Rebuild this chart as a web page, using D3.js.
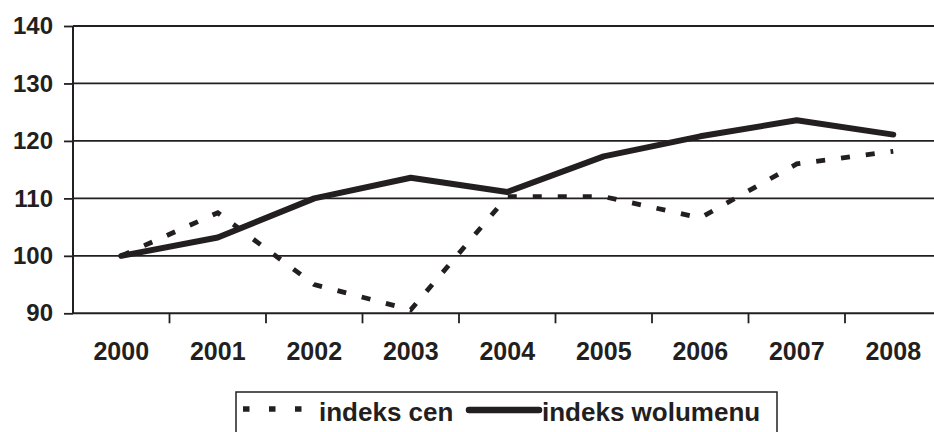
<!DOCTYPE html>
<html>
<head>
<meta charset="utf-8">
<script src="https://cdn.jsdelivr.net/npm/d3@7"></script>
<style>
  body { margin: 0; background: #fff; }
  svg { display: block; font-family: "Liberation Sans", Arial, sans-serif; font-weight: bold; }
</style>
</head>
<body>
<svg id="chart" width="934" height="432"></svg>
<script>
const years = ["2000", "2001", "2002", "2003", "2004", "2005", "2006", "2007", "2008"];
const indeksCen = [100, 107.5, 95, 90.6, 110.3, 110.3, 106.6, 116, 118.2];
const indeksWolumenu = [100, 103.2, 110, 113.6, 111.1, 117.3, 120.8, 123.6, 121.1];
const yTicks = [90, 100, 110, 120, 130, 140];
const seriesNames = ["indeks cen", "indeks wolumenu"];

const INK = "#231f20";
const svg = d3.select("#chart");

const x = d3.scaleBand().domain(years).range([73, 941.5]).padding(0);
const y = d3.scaleLinear().domain([90, 140]).range([313.3, 26]);

// gridlines
svg.append("g")
  .selectAll("line")
  .data(yTicks.filter(d => d > 90))
  .join("line")
  .attr("x1", 73).attr("x2", 934)
  .attr("y1", d => y(d)).attr("y2", d => y(d))
  .attr("stroke", INK).attr("stroke-width", 1.8);

// y axis
const yAxis = svg.append("g")
  .attr("transform", "translate(73,0)")
  .call(d3.axisLeft(y).tickValues(yTicks).tickSize(9).tickPadding(11).tickFormat(d3.format("d")));
yAxis.select(".domain").attr("stroke", INK).attr("stroke-width", 2).attr("d", `M0,${y(140)}V${y(90)}`);
yAxis.selectAll(".tick line").attr("stroke", INK).attr("stroke-width", 1.8);
yAxis.selectAll(".tick text")
  .attr("fill", INK).attr("font-size", 24).attr("font-weight", "bold")
  .attr("font-family", "Liberation Sans, Arial, sans-serif");

// x axis
const xAxis = svg.append("g")
  .attr("transform", `translate(0,${y(90)})`)
  .call(d3.axisBottom(x).tickSize(0).tickPadding(29));
xAxis.select(".domain").attr("stroke", INK).attr("stroke-width", 2).attr("d", "M73,0H934");
xAxis.selectAll(".tick text")
  .attr("fill", INK).attr("font-size", 25).attr("font-weight", "bold")
  .attr("font-family", "Liberation Sans, Arial, sans-serif");
// ticks between categories
svg.append("g")
  .selectAll("line")
  .data(years.slice(1))
  .join("line")
  .attr("x1", d => x(d)).attr("x2", d => x(d))
  .attr("y1", y(90)).attr("y2", y(90) + 10)
  .attr("stroke", INK).attr("stroke-width", 1.8);

const line = d3.line()
  .x((d, i) => x(years[i]) + x.bandwidth() / 2)
  .y(d => y(d));

svg.append("path")
  .datum(indeksCen)
  .attr("d", line)
  .attr("fill", "none")
  .attr("stroke", INK)
  .attr("stroke-width", 4.8)
  .attr("stroke-dasharray", "9,16");

svg.append("path")
  .datum(indeksWolumenu)
  .attr("d", line)
  .attr("fill", "none")
  .attr("stroke", INK)
  .attr("stroke-width", 6)
  .attr("stroke-linejoin", "round")
  .attr("stroke-linecap", "round");

// legend
const lg = svg.append("g");
lg.append("rect")
  .attr("x", 236).attr("y", 392)
  .attr("width", 541).attr("height", 60)
  .attr("fill", "none").attr("stroke", INK).attr("stroke-width", 1.5);
lg.append("line")
  .attr("x1", 243).attr("x2", 303).attr("y1", 409).attr("y2", 409)
  .attr("stroke", INK).attr("stroke-width", 5.5).attr("stroke-dasharray", "6.5,19.5");
lg.append("text")
  .attr("x", 319).attr("y", 421)
  .attr("font-size", 26).attr("fill", INK)
  .text(seriesNames[0]);
lg.append("line")
  .attr("x1", 469).attr("x2", 539).attr("y1", 410).attr("y2", 410)
  .attr("stroke", INK).attr("stroke-width", 6.5).attr("stroke-linecap", "round");
lg.append("text")
  .attr("x", 542).attr("y", 421)
  .attr("font-size", 26).attr("fill", INK)
  .text(seriesNames[1]);
</script>
</body>
</html>
